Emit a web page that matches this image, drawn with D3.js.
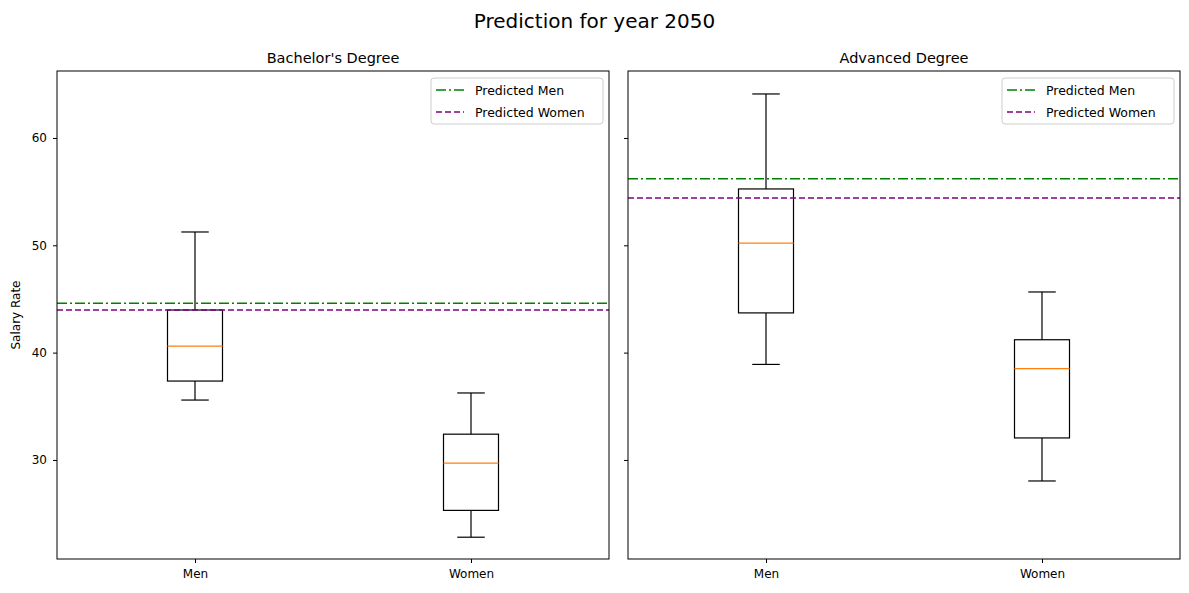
<!DOCTYPE html>
<html><head><meta charset="utf-8">
<script src="https://cdn.jsdelivr.net/npm/d3@7"></script>
<style>body{margin:0;background:#fff;font-family:"DejaVu Sans",sans-serif;}</style>
</head><body>
<svg id="c" width="1189" height="593"></svg>
<script>
const categories = ["Men","Women"];
const panels = ["Bachelor's Degree","Advanced Degree"];
// [min, q1, median, q3, max]
const bachelorBoxes = [[35.58,37.35,40.6,43.97,51.24],[22.8,25.3,29.7,32.4,36.24]];
const advancedBoxes = [[38.9,43.7,50.2,55.25,64.1],[28.04,32.05,38.5,41.2,45.65]];
const predictedMen = [44.6, 56.2];
const predictedWomen = [43.97, 54.4];
const yTicks = [30,40,50,60];

const svg = d3.select("#c");
svg.append("text").attr("x",594.5).attr("y",28).attr("text-anchor","middle").attr("font-size",20).text("Prediction for year 2050");
const y = d3.scaleLinear().domain([20.77,66.24]).range([559,71]);
const lefts=[57,628], W=552;
const boxesAll=[bachelorBoxes,advancedBoxes];
panels.forEach((title,i)=>{
  const g=svg.append("g").attr("transform",`translate(${lefts[i]},0)`);
  const x=d3.scalePoint().domain(categories).range([0,W]).padding(0.5);
  g.append("text").attr("x",W/2).attr("y",63).attr("text-anchor","middle").attr("font-size",14.5).text(title);
  const ya=g.append("g").call(d3.axisLeft(y).tickValues(yTicks).tickSize(4).tickPadding(6).tickFormat(i===0?d3.format("d"):()=> ""));
  ya.selectAll("text").attr("font-size",12).attr("font-family","DejaVu Sans");
  ya.select(".domain").remove();
  const xa=g.append("g").attr("transform","translate(0,559)").call(d3.axisBottom(x).tickSize(4).tickPadding(6));
  xa.selectAll("text").attr("font-size",12).attr("font-family","DejaVu Sans");
  xa.select(".domain").remove();
  const bw=55, cw=27.5;
  boxesAll[i].forEach((b,j)=>{
    const cx=x(categories[j]);
    const s={stroke:"#000","stroke-width":1.2};
    const L=(x1,y1,x2,y2,c="#000")=>g.append("line").attr("x1",x1).attr("y1",y1).attr("x2",x2).attr("y2",y2).attr("stroke",c).attr("stroke-width",1.2);
    L(cx,y(b[0]),cx,y(b[1])); L(cx,y(b[3]),cx,y(b[4]));
    L(cx-cw/2,y(b[0]),cx+cw/2,y(b[0])); L(cx-cw/2,y(b[4]),cx+cw/2,y(b[4]));
    g.append("rect").attr("x",cx-bw/2).attr("y",y(b[3])).attr("width",bw).attr("height",y(b[1])-y(b[3])).attr("fill","none").attr("stroke","#000").attr("stroke-width",1.2);
    L(cx-bw/2,y(b[2]),cx+bw/2,y(b[2]),"#ff7f0e");
  });
  g.append("line").attr("x1",0).attr("x2",W).attr("y1",y(predictedMen[i])).attr("y2",y(predictedMen[i])).attr("stroke","green").attr("stroke-width",1.6).attr("stroke-dasharray","10,3,2,3");
  g.append("line").attr("x1",0).attr("x2",W).attr("y1",y(predictedWomen[i])).attr("y2",y(predictedWomen[i])).attr("stroke","purple").attr("stroke-width",1.6).attr("stroke-dasharray","6,3");
  g.append("rect").attr("x",0).attr("y",71).attr("width",W).attr("height",488).attr("fill","none").attr("stroke","#000").attr("stroke-width",1);
  const lg=g.append("g").attr("transform",`translate(${W-178},78)`);
  lg.append("rect").attr("width",172).attr("height",46).attr("rx",3).attr("fill","#fff").attr("stroke","#ccc");
  [["Predicted Men","green","10,3,2,3"],["Predicted Women","purple","6,3"]].forEach((d,k)=>{
    const yy=12+k*22;
    lg.append("line").attr("x1",5).attr("x2",33).attr("y1",yy).attr("y2",yy).attr("stroke",d[1]).attr("stroke-width",1.6).attr("stroke-dasharray",d[2]);
    lg.append("text").attr("x",44).attr("y",yy+4.5).attr("font-size",12.5).text(d[0]);
  });
});
const yl=svg.append("text").attr("transform","translate(20,315) rotate(-90)").attr("text-anchor","middle").attr("font-size",12).text("Salary Rate");
</script>
</body></html>
